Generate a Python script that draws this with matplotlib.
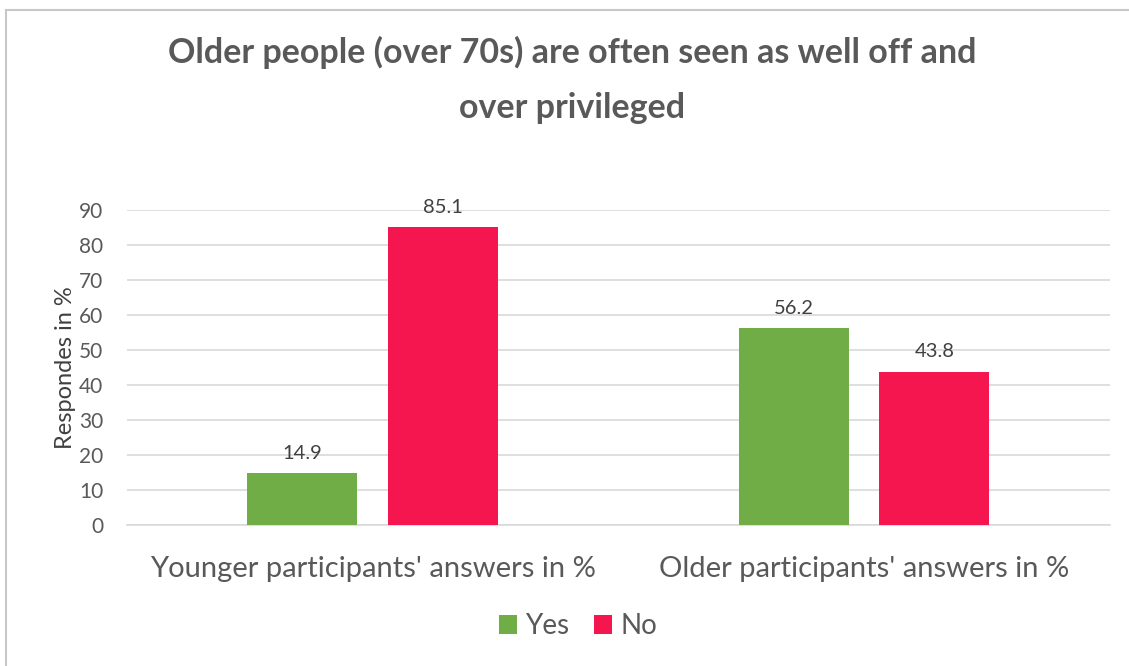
import numpy as np
import matplotlib.pyplot as plt
from matplotlib.patches import Rectangle

categories = ["Younger participants' answers in %", "Older participants' answers in %"]
yes_vals = [14.9, 56.2]
no_vals = [85.1, 43.8]

plt.rcParams['font.family'] = ['Lato', 'DejaVu Sans']
grey = '#595959'

fig = plt.figure(figsize=(11.29, 6.66), dpi=100)
ax = fig.add_axes([0.1125, 0.2117, 0.8705, 0.473])

x = np.arange(len(categories))
w = 0.224
b1 = ax.bar(x - 0.143, yes_vals, w, color='#70ad47', label='Yes', zorder=3)
b2 = ax.bar(x + 0.143, no_vals, w, color='#f5154f', label='No', zorder=3)

# value labels above each bar
for bars in (b1, b2):
    for r in bars:
        ax.text(r.get_x() + r.get_width() / 2, r.get_height() + 3.2, f'{r.get_height():.1f}',
                ha='center', va='bottom', fontsize=14.5, color='#404040')

ax.set_xlim(-0.5, 1.5)
ax.set_ylim(0, 90)
ax.set_yticks(range(0, 91, 10))
ax.yaxis.grid(True, color='#d9d9d9', linewidth=1.2, zorder=0)
for s in ['top', 'right', 'left']:
    ax.spines[s].set_visible(False)
ax.spines['bottom'].set_color('#d9d9d9')
ax.spines['bottom'].set_linewidth(1.2)
ax.tick_params(axis='y', length=0, labelsize=15, labelcolor=grey, pad=17)
ax.tick_params(axis='x', length=0, labelsize=21, labelcolor=grey, pad=22)
ax.set_xticks(x)
ax.set_xticklabels(categories)
ax.set_ylabel('Respondes in %', fontsize=17, color='#404040', labelpad=2)

fig.text(0.507, 0.922, 'Older people (over 70s) are often seen as well off and', ha='center', va='center',
         fontsize=24.5, fontweight='bold', color=grey)
fig.text(0.507, 0.838, 'over privileged', ha='center', va='center',
         fontsize=24.5, fontweight='bold', color=grey)

fig.legend(loc='center', bbox_to_anchor=(0.512, 0.06), ncol=2, frameon=False, fontsize=20,
           handlelength=0.65, handleheight=0.65, handletextpad=0.3, columnspacing=0.9,
           labelcolor=grey)

# thin grey frame, cut off at the right and bottom like the screenshot
fig.patches.append(Rectangle((6 / 1129, -0.1), 1.2, 1 - 10 / 666 + 0.1, transform=fig.transFigure,
                             fill=False, edgecolor='#c8c8c8', linewidth=1.5))

fig.savefig('out.png', dpi=100)
